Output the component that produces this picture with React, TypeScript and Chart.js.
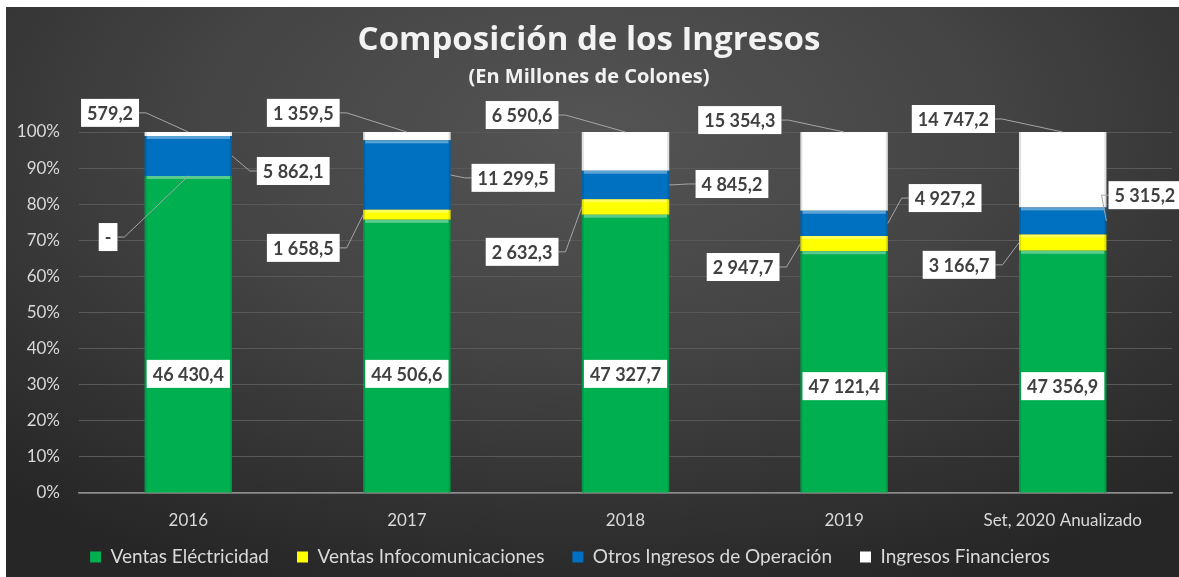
import React, { useEffect, useRef } from 'react';
import { Chart, registerables } from 'chart.js';

Chart.register(...registerables);

// ---- data ----
const categories = ['2016', '2017', '2018', '2019', 'Set, 2020 Anualizado'];
const seriesNames = [
  'Ventas Eléctricidad',
  'Ventas Infocomunicaciones',
  'Otros Ingresos de Operación',
  'Ingresos Financieros',
];
const ventasElectricidad = [46430.4, 44506.6, 47327.7, 47121.4, 47356.9];
const ventasInfocomunicaciones = [0, 1658.5, 2632.3, 2947.7, 3166.7];
const otrosIngresos = [5862.1, 11299.5, 4845.2, 4927.2, 5315.2];
const ingresosFinancieros = [579.2, 1359.5, 6590.6, 15354.3, 14747.2];
const yTickValues = [0, 10, 20, 30, 40, 50, 60, 70, 80, 90, 100];

// ---- label placement (category offset, percent) ----
const elecLabelPos = [[0, 33], [0, 33], [0, 33], [0, 29.6], [0, 29.6]];
const infoLabelPos = [[-0.367, 70.9], [-0.474, 67.9], [-0.473, 66.8], [-0.462, 62.6], [-0.474, 63.2]];
const otrosLabelPos = [[0.48, 89.2], [0.486, 87.3], [0.487, 85.6], [0.462, 81.7], [0.376, 82.5]];
const finLabelPos = [[-0.358, 105.3], [-0.474, 105.3], [-0.473, 104.7], [-0.477, 103.3], [-0.5, 103.6]];

const seriesValues = [ventasElectricidad, ventasInfocomunicaciones, otrosIngresos, ingresosFinancieros];
const seriesColors = ['#00b050', '#ffff00', '#0070c0', '#ffffff'];
const labelPositions = [elecLabelPos, infoLabelPos, otrosLabelPos, finLabelPos];
const anchorKinds = ['inside', 'left', 'right', 'top'];

const totals = categories.map((_, j) => seriesValues.reduce((s, arr) => s + arr[j], 0));
const pct = (arr: number[]) => arr.map((v, j) => (v / totals[j]) * 100);

function fmt(v: number): string {
  if (v === 0) return '-';
  const [i, d] = v.toFixed(1).split('.');
  return i.replace(/\B(?=(\d{3})+(?!\d))/g, ' ') + ',' + d;
}

const legendShiftPlugin = {
  id: 'legendShift',
  afterLayout(chart: any) {
    const lg = chart.legend;
    if (lg) {
      lg.left -= 19;
      lg.right -= 19;
      lg.top -= 11.5;
      lg.bottom -= 11.5;
    }
  },
};

const bevelPlugin = {
  id: 'bevel',
  afterDatasetsDraw(chart: any) {
    const ctx = chart.ctx;
    ctx.save();
    chart.data.datasets.forEach((ds: any, i: number) => {
      const meta = chart.getDatasetMeta(i);
      meta.data.forEach((el: any) => {
        const { x, y, base, width } = el.getProps(['x', 'y', 'base', 'width'], true);
        const h = base - y;
        if (h < 1.5) return;
        const l = x - width / 2;
        ctx.fillStyle = 'rgba(255,255,255,0.35)';
        ctx.fillRect(l + 2, y, width - 4, Math.min(3, h));
        ctx.fillStyle = 'rgba(0,0,0,0.12)';
        ctx.fillRect(l, y, 2, h);
        ctx.fillRect(l + width - 2, y, 2, h);
      });
    });
    ctx.restore();
  },
};

const labelPlugin = {
  id: 'boxLabels',
  afterDatasetsDraw(chart: any) {
    const ctx = chart.ctx;
    const xs = chart.scales.x;
    const ys = chart.scales.y;
    ctx.save();
    ctx.font = 'bold 18px Lato, "Open Sans", sans-serif';
    ctx.textAlign = 'center';
    ctx.textBaseline = 'middle';
    seriesValues.forEach((vals, i) => {
      const meta = chart.getDatasetMeta(i);
      vals.forEach((v, j) => {
        const el = meta.data[j];
        const { x, y, base, width } = el.getProps(['x', 'y', 'base', 'width'], true);
        const [dx, yp] = labelPositions[i][j];
        const cx = xs.getPixelForValue(j + dx);
        const cy = ys.getPixelForValue(yp);
        const text = fmt(v);
        const tw = ctx.measureText(text).width;
        const bw = tw + 12;
        const bh = 28;
        const kind = anchorKinds[i];
        if (kind !== 'inside') {
          let ax = x;
          let ay = (y + base) / 2;
          if (kind === 'top') { ax = x; ay = y; }
          else if (kind === 'right') { ax = x + width / 2; }
          else if (kind === 'left') { ax = v === 0 ? x : x - width / 2; if (v === 0) ay = y; }
          const side = cx < ax ? 1 : -1;
          const sx = cx + side * bw / 2;
          ctx.strokeStyle = '#a6a6a6';
          ctx.lineWidth = 1;
          ctx.beginPath();
          ctx.moveTo(sx, cy);
          ctx.lineTo(sx + side * 7, cy);
          ctx.lineTo(ax, ay);
          ctx.stroke();
        }
        ctx.fillStyle = '#ffffff';
        ctx.fillRect(cx - bw / 2, cy - bh / 2, bw, bh);
        ctx.fillStyle = '#404040';
        ctx.fillText(text, cx, cy + 1);
      });
    });
    ctx.restore();
  },
};

export default function App() {
  const ref = useRef<HTMLCanvasElement>(null);
  useEffect(() => {
    const canvas = ref.current;
    if (!canvas) return;
    const chart = new Chart(canvas, {
      type: 'bar',
      data: {
        labels: categories,
        datasets: seriesNames.map((name, i) => ({
          label: name,
          data: pct(seriesValues[i]),
          backgroundColor: seriesColors[i],
          borderWidth: 0,
          categoryPercentage: 1,
          barPercentage: 0.4,
        })),
      },
      options: {
        animation: false,
        responsive: false,
        devicePixelRatio: 1,
        layout: { padding: { left: 0, right: 7, top: 0, bottom: 0 } },
        plugins: {
          tooltip: { enabled: false },
          title: {
            display: true,
            text: 'Composición de los Ingresos',
            color: '#f2f2f2',
            font: { family: '"Open Sans", sans-serif', size: 33, weight: 'bold', lineHeight: 1.2 },
            padding: { top: 14, bottom: 0 },
          },
          subtitle: {
            display: true,
            text: '(En Millones de Colones)',
            color: '#f2f2f2',
            font: { family: '"Open Sans", sans-serif', size: 20, weight: 'bold', lineHeight: 1.2 },
            padding: { top: 4.4, bottom: 43 },
          },
          legend: {
            position: 'bottom',
            maxHeight: 46,
            labels: {
              color: '#d9d9d9',
              font: { family: 'Lato, sans-serif', size: 19 },
              boxWidth: 11,
              boxHeight: 11,
              padding: 28,
            },
          },
        },
        scales: {
          x: {
            stacked: true,
            grid: { display: false, drawTicks: false },
            border: { display: true, color: '#8c8c8c', width: 1.5 },
            ticks: { color: '#d9d9d9', font: { family: 'Lato, sans-serif', size: 17 }, padding: 17 },
            afterFit: (s: any) => { s.height = 38; },
          },
          y: {
            stacked: true,
            min: 0,
            max: 100,
            afterBuildTicks: (s: any) => { s.ticks = yTickValues.map((v) => ({ value: v })); },
            grid: { color: '#595959', drawTicks: false },
            border: { display: false },
            ticks: {
              color: '#d9d9d9',
              font: { family: 'Lato, sans-serif', size: 17 },
              padding: 19,
              callback: (v: any) => v + '%',
            },
            afterFit: (s: any) => { s.width = 73; },
          },
        },
      },
      plugins: [legendShiftPlugin, bevelPlugin, labelPlugin],
    });
    return () => chart.destroy();
  }, []);

  return (
    <div style={{ position: 'fixed', left: 0, top: 0, width: 1179, height: 577, background: '#ffffff', overflow: 'hidden' }}>
      <div
        style={{
          position: 'absolute',
          left: 6,
          top: 7,
          width: 1173,
          height: 570,
          background: 'radial-gradient(ellipse 75% 85% at 50% 22%, #545454 0%, #444444 45%, #2e2e2e 85%, #262626 100%)',
        }}
      >
        <canvas ref={ref} width={1173} height={570} style={{ display: 'block', width: 1173, height: 570 }} />
      </div>
    </div>
  );
}
